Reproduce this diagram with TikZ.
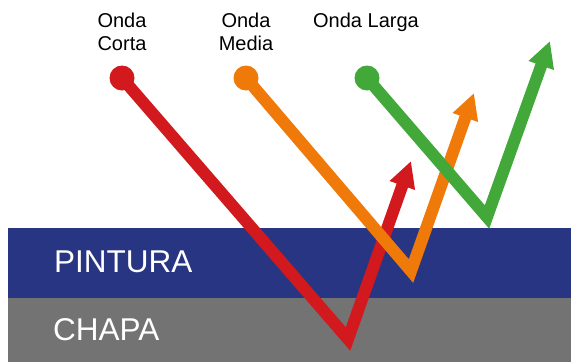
\documentclass[tikz,border=0pt]{standalone}
\usepackage{fontspec}
\setmainfont{Liberation Sans}
\usetikzlibrary{arrows.meta, positioning}
\definecolor{pinturablue}{HTML}{283583}
\definecolor{chapagray}{HTML}{737373}
\definecolor{cortared}{HTML}{D2191D}
\definecolor{mediaorange}{HTML}{EF7A0A}
\definecolor{largagreen}{HTML}{42A83A}

\begin{document}
\begin{tikzpicture}[
    x=1pt, y=-1pt,
    layer/.style={inner sep=0pt, anchor=west, text=white, font=\fontsize{31.5}{36}\selectfont},
    wavename/.style={inner sep=0pt, anchor=north, align=center, font=\fontsize{20}{22.5}\selectfont},
    dot/.style={circle, inner sep=0pt, minimum size=25pt},
    wave/.style={line width=12pt, miter limit=20, -{Triangle[length=26pt, width=25pt]}},
]
\useasboundingbox (0,0) rectangle (571,362);
% capas
\fill[pinturablue] (8,228) rectangle (571,298);
\fill[chapagray] (8,298) rectangle (571,362);
\node[layer] (pintura) at (54,262) {PINTURA};
\node[layer] (chapa) at (53,330) {CHAPA};

% nombres
\node[wavename] (corta) at (122,13) {Onda\\Corta};
\node[wavename] (media) at (246,13) {Onda\\Media};
\node[wavename] (larga) at (366,13) {Onda Larga};

% puntos de partida
\node[dot, fill=cortared] (pcorta) at (122,78) {};
\node[dot, fill=mediaorange] (pmedia) at (246,78) {};
\node[dot, fill=largagreen] (plarga) at (367,78) {};

\coordinate (vcorta) at (348,339);
\coordinate (vmedia) at (411,271);
\coordinate (vlarga) at (487,217);
\coordinate (tcorta) at (411,161);
\coordinate (tmedia) at (474,93);
\coordinate (tlarga) at (550,41);

% ondas
\draw[wave, cortared] (pcorta.center) -- (vcorta) -- (tcorta);
\draw[wave, mediaorange] (pmedia.center) -- (vmedia) -- (tmedia);
\draw[wave, largagreen] (plarga.center) -- (vlarga) -- (tlarga);
\end{tikzpicture}
\end{document}
